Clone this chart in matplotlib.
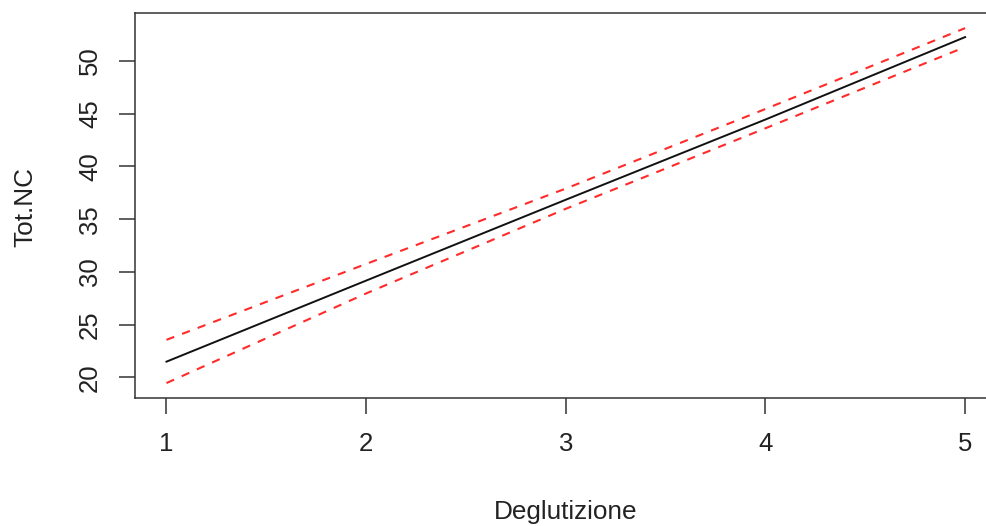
import matplotlib
matplotlib.use("Agg")
import matplotlib.pyplot as plt

plt.rcParams['font.family'] = ['Liberation Sans', 'DejaVu Sans']

# fitted values and confidence band at each level of Deglutizione
deglutizione = [1, 2, 3, 4, 5]
fit = [21.48, 29.17, 36.84, 44.45, 52.27]
upper = [23.55, 30.75, 37.9, 45.45, 53.12]
lower = [19.45, 27.95, 35.98, 43.62, 51.33]

fig = plt.figure(figsize=(9.87, 5.26), dpi=100)
ax = fig.add_axes([0.1363, 0.2439, 0.8739, 0.7323])

ax.plot(deglutizione, fit, color='#111111', lw=1.4)
ax.plot(deglutizione, upper, color='#ff2a2a', lw=1.5, linestyle=(0, (4, 4)))
ax.plot(deglutizione, lower, color='#ff2a2a', lw=1.5, linestyle=(0, (4, 4)))

ax.set_xlim(0.84, 5.16)
ax.set_ylim(18.06, 54.6)
ax.set_xticks([1, 2, 3, 4, 5])
ax.set_yticks([20, 25, 30, 35, 40, 45, 50])

for s in ax.spines.values():
    s.set_color('#333333')
    s.set_linewidth(1.1)

ax.tick_params(axis='both', length=11.5, width=1.1, color='#333333',
               labelsize=18.5, labelcolor='#222222', pad=13)
ax.tick_params(axis='y', pad=12)
for lab in ax.get_yticklabels():
    lab.set_rotation(90)
    lab.set_va('center')

fig.text(0.5735, 0.026, 'Deglutizione', ha='center', va='center',
         fontsize=18.8, color='#222222')
fig.text(0.0253, 0.607, 'Tot.NC', ha='center', va='center', rotation=90,
         fontsize=18.8, color='#222222')

fig.savefig('out.png', dpi=100)
